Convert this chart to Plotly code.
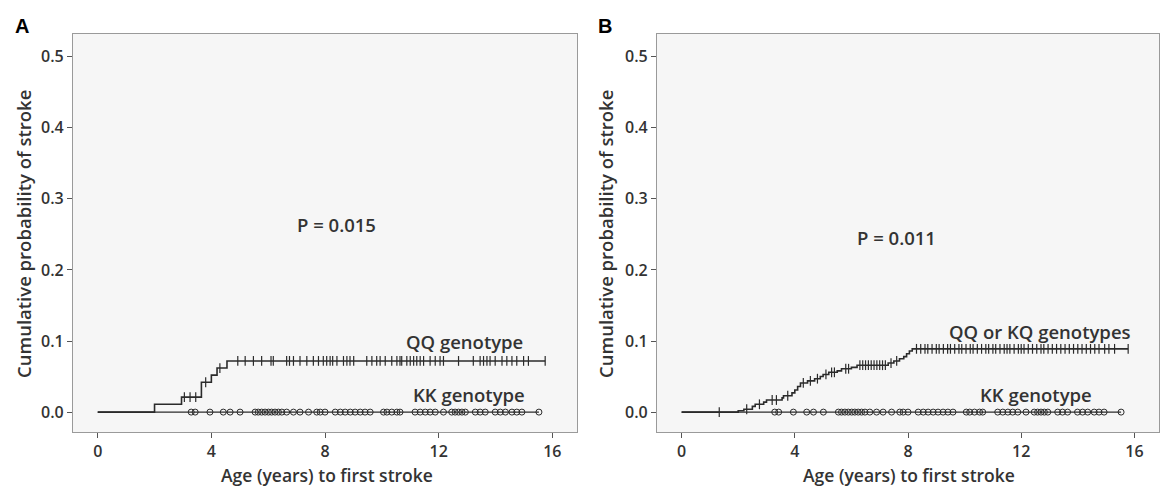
import numpy as np
import plotly.graph_objects as go

# ---------------- data ----------------
# Panel A : QQ genotype (events -> cumulative probability)
a_qq_event_t = [2.0, 2.95, 3.65, 4.0, 4.2, 4.55]
a_qq_event_p = [0.011, 0.021, 0.042, 0.052, 0.062, 0.072]
a_qq_censor_t = [3.05, 3.25, 3.45, 3.8, 4.3, 4.93, 5.19, 5.48, 5.77, 6.10, 6.18, 6.65, 6.75,
                 6.89, 7.12, 7.36, 7.59, 7.77, 7.94, 8.06, 8.18, 8.27, 8.42, 8.65, 8.77,
                 8.88, 9.01, 9.47, 9.65, 9.82, 9.94, 10.12, 10.35, 10.53, 10.64, 10.70,
                 10.88, 11.0, 11.12, 11.23, 11.35, 11.47, 11.70, 11.88, 12.05, 12.17,
                 12.70, 13.22, 13.46, 13.58, 13.70, 13.81, 13.99, 14.23, 14.40, 14.58,
                 14.75, 14.99, 15.16, 15.75]

# KK genotype (no events) censor times, both panels
kk_censor_t = [3.29, 3.43, 3.95, 4.42, 4.66, 5.01, 5.54, 5.65, 5.77, 5.89, 6.01, 6.12, 6.24,
               6.36, 6.48, 6.65, 6.89, 7.12, 7.42, 7.71, 7.83, 8.0, 8.36, 8.54, 8.71, 8.89,
               9.06, 9.24, 9.41, 9.59, 10.06, 10.18, 10.35, 10.53, 10.64, 11.17, 11.35,
               11.53, 11.70, 11.88, 12.17, 12.46, 12.58, 12.70, 12.82, 12.94, 13.29, 13.46,
               13.64, 13.99, 14.17, 14.35, 14.58, 14.75, 14.93, 15.53]

# Panel B : QQ or KQ genotypes
b_qk_event_t = [2.0, 2.2, 2.5, 2.6, 2.9, 3.0, 3.55, 3.6, 3.9, 4.0, 4.1, 4.2, 4.45, 4.7,
                4.9, 5.0, 5.2, 5.5, 5.65, 6.0, 6.2, 7.3, 7.5, 7.7, 7.85, 7.95, 8.05, 8.15]
b_qk_event_p = [0.002, 0.004, 0.008, 0.011, 0.014, 0.017, 0.020, 0.023, 0.027, 0.031,
                0.036, 0.041, 0.044, 0.047, 0.050, 0.053, 0.056, 0.058, 0.061, 0.063,
                0.066, 0.069, 0.072, 0.075, 0.078, 0.082, 0.086, 0.089]
b_qk_censor_t = [1.33, 2.3, 2.75, 3.2, 3.35, 3.75, 4.3, 4.55, 4.8, 5.1, 5.3, 5.4, 5.8, 5.9,
                 6.3, 6.4, 6.5, 6.6, 6.7, 6.8, 6.9, 7.0, 7.1, 7.2, 7.4, 7.6, 8.3, 8.45, 8.6,
                 8.7, 8.85, 9.0, 9.1, 9.25, 9.4, 9.5, 9.65, 9.8, 9.9, 10.05, 10.2, 10.3,
                 10.45, 10.6, 10.75, 10.85, 11.0, 11.1, 11.25, 11.4, 11.5, 11.6, 11.75,
                 11.9, 12.0, 12.1, 12.25, 12.4, 12.55, 12.7, 12.8, 12.95, 13.1, 13.25,
                 13.4, 13.55, 13.7, 13.85, 14.0, 14.15, 14.3, 14.45, 14.6, 14.75, 14.95,
                 15.1, 15.3, 15.78]

x_ticks = [0, 4, 8, 12, 16]
y_ticks = [0.0, 0.1, 0.2, 0.3, 0.4, 0.5]

# ---------------- styling ----------------
W, H = 1160, 487
LINE = "#2b2b2b"
FRAME = "#9a9a9a"
FONT = "Open Sans"
TXT = "#333333"

fig = go.Figure()


def step_curve(ev_t, ev_p, cens_t):
    xs = [0.0] + list(ev_t) + [max(cens_t)]
    ys = [0.0] + list(ev_p) + [ev_p[-1] if ev_p else 0.0]
    return xs, ys


def value_at(ev_t, ev_p, t):
    t = np.asarray(t)
    idx = np.searchsorted(np.asarray(ev_t), t, side="right")
    vals = np.concatenate([[0.0], np.asarray(ev_p)])
    return vals[idx]


def add_panel(xa, ya, ev_t, ev_p, cens_t, kk_t):
    xs, ys = step_curve(ev_t, ev_p, cens_t)
    fig.add_trace(go.Scatter(x=xs, y=ys, mode="lines", line_shape="hv",
                             line=dict(color=LINE, width=1.6), xaxis=xa, yaxis=ya,
                             showlegend=False, hoverinfo="skip"))
    fig.add_trace(go.Scatter(x=cens_t, y=value_at(ev_t, ev_p, cens_t), mode="markers",
                             marker=dict(symbol="line-ns", size=7, color=LINE,
                                         line=dict(color=LINE, width=1.2)),
                             xaxis=xa, yaxis=ya, showlegend=False, hoverinfo="skip"))
    fig.add_trace(go.Scatter(x=[0, max(kk_t)], y=[0, 0], mode="lines",
                             line=dict(color=LINE, width=1.4), xaxis=xa, yaxis=ya,
                             showlegend=False, hoverinfo="skip"))
    fig.add_trace(go.Scatter(x=kk_t, y=[0] * len(kk_t), mode="markers",
                             marker=dict(symbol="circle-open", size=6, color=LINE,
                                         line=dict(color=LINE, width=1)),
                             xaxis=xa, yaxis=ya, showlegend=False, hoverinfo="skip"))


add_panel("x", "y", a_qq_event_t, a_qq_event_p, a_qq_censor_t, kk_censor_t)
add_panel("x2", "y2", b_qk_event_t, b_qk_event_p, b_qk_censor_t, kk_censor_t)

ydom = [1 - 432 / H, 1 - 34 / H]
xdomA = [73 / W, 577 / W]
xdomB = [657 / W, 1159 / W]

axis_common = dict(showline=True, mirror=True, linecolor=FRAME, linewidth=1.2,
                   ticks="outside", ticklen=5, tickcolor="#555555", tickwidth=1,
                   showgrid=False, zeroline=False,
                   tickfont=dict(family=FONT, size=16, color=TXT, weight=600))

fig.update_layout(
    width=W, height=H, margin=dict(l=0, r=0, t=0, b=0),
    paper_bgcolor="white", plot_bgcolor="#f6f6f6",
    xaxis=dict(domain=xdomA, range=[-0.87, 16.87], tickvals=x_ticks, anchor="y",
               **axis_common),
    yaxis=dict(domain=ydom, range=[-0.028, 0.532], tickvals=y_ticks, tickformat=".1f",
               anchor="x", **axis_common),
    xaxis2=dict(domain=xdomB, range=[-0.87, 16.87], tickvals=x_ticks, anchor="y2",
                **axis_common),
    yaxis2=dict(domain=ydom, range=[-0.028, 0.532], tickvals=y_ticks, tickformat=".1f",
                anchor="x2", **axis_common),
)

lab_font = dict(family=FONT, size=18.5, color=TXT, weight=600)
title_font = dict(family=FONT, size=18.5, color=TXT, weight=600)
xtitle_font = dict(family=FONT, size=17.5, color=TXT, weight=600)
panel_font = dict(family="Liberation Sans", size=20, color="black", weight=700)


def pa(text, px, py, angle=0, font=title_font):
    return dict(text=text, x=px / W, y=1 - py / H, xref="paper", yref="paper",
                xanchor="center", yanchor="middle", showarrow=False, textangle=angle,
                font=font, borderpad=0)


def da(text, x, y, ax):
    return dict(text=text, x=x, y=y, xref=ax[0], yref=ax[1], xanchor="center",
                yanchor="middle", showarrow=False, font=lab_font)


annots = [
    pa("A", 21.5, 25.5, font=panel_font),
    pa("B", 605, 25.5, font=panel_font),
    da("P = 0.015", 8.39, 0.264, ("x", "y")),
    da("QQ genotype", 12.9, 0.100, ("x", "y")),
    da("KK genotype", 13.07, 0.025, ("x", "y")),
    da("P = 0.011", 7.6, 0.246, ("x2", "y2")),
    da("QQ or KQ genotypes", 12.66, 0.114, ("x2", "y2")),
    da("KK genotype", 12.54, 0.025, ("x2", "y2")),
    pa("Cumulative probability of stroke", 23, 234, angle=-90),
    pa("Cumulative probability of stroke", 605, 234, angle=-90),
    pa("Age (years) to first stroke", 327, 474.5, font=xtitle_font),
    pa("Age (years) to first stroke", 909, 474.5, font=xtitle_font),
]
fig.update_layout(annotations=annots)

fig.write_html("out.html", config={"displayModeBar": False},
               post_script="document.body.style.margin='0';document.body.style.overflow='hidden';")
